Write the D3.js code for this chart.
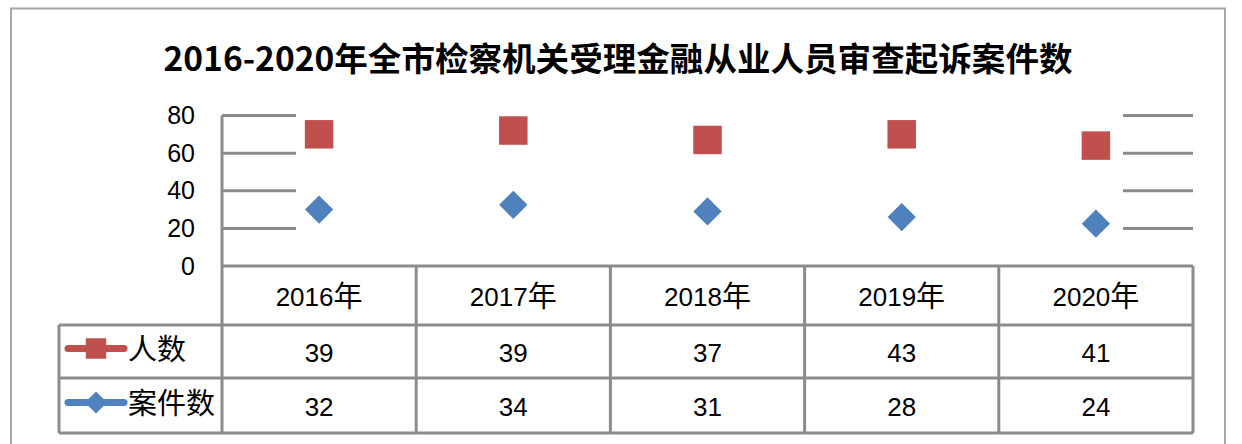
<!DOCTYPE html>
<html>
<head>
<meta charset="utf-8">
<script src="https://cdn.jsdelivr.net/npm/d3@7"></script>
<style>
  body { margin: 0; background: #fff; }
  text { font-family: "Liberation Sans", "Noto Sans CJK SC", sans-serif; }
</style>
</head>
<body>
<script>
// data
let years = ["2016", "2017", "2018", "2019", "2020"];
let year_suffix = "年";
let people_marks = [70, 72, 67, 70, 64];     // where the red squares sit on the axis
let cases_marks = [30, 32.5, 29, 26, 22.5];  // where the blue diamonds sit
let people_table = [39, 39, 37, 43, 41];     // numbers printed in the table
let cases_table = [32, 34, 31, 28, 24];
let y_ticks = [0, 20, 40, 60, 80];
let title = "2016-2020年全市检察机关受理金融从业人员审查起诉案件数";

let width = 1242, height = 444;
let plot = { left: 222, right: 1193, top: 115.5, bottom: 266 };
let table_left = 59;
let rows = [266, 325, 378, 433];
let grid_gray = "#8c8c8c";
let red = "#c0504d", blue = "#4f81bd";
let digit_font = "26px", cjk_font = "29px";

let svg = d3.select("body").append("svg")
    .attr("width", width)
    .attr("height", height);

// outer frame
svg.append("rect")
    .attr("x", 11).attr("y", 8.5)
    .attr("width", 1214).attr("height", 460)
    .attr("fill", "white")
    .attr("stroke", "#a6a6a6")
    .attr("stroke-width", 2);

svg.append("text")
    .attr("x", 618).attr("y", 57)
    .attr("text-anchor", "middle")
    .attr("dominant-baseline", "central")
    .style("font-family", "'Noto Sans CJK SC', sans-serif")
    .style("font-size", "33px")
    .style("font-weight", "bold")
    .attr("textLength", 909)
    .attr("lengthAdjust", "spacingAndGlyphs")
    .text(title);

let x = d3.scaleBand().domain(years).range([plot.left, plot.right]);
let y = d3.scaleLinear().domain([0, 80]).range([plot.bottom, plot.top]);
let cx = d => x(d) + x.bandwidth() / 2;

// gridlines only show at both ends of the plot
let grid_segments = [[plot.left, 296], [1123, plot.right]];
for (let seg of grid_segments) {
    svg.selectAll(null)
        .data(y_ticks.filter(t => t > 0))
        .enter().append("line")
        .attr("x1", seg[0]).attr("x2", seg[1])
        .attr("y1", d => y(d)).attr("y2", d => y(d))
        .attr("stroke", grid_gray)
        .attr("stroke-width", 3);
}

// y tick labels
let yAxis = svg.append("g")
    .attr("transform", "translate(" + (plot.left - 27) + ",0)")
    .call(d3.axisLeft(y).tickValues(y_ticks).tickSize(0).tickPadding(0));
yAxis.select(".domain").remove();
yAxis.selectAll("text")
    .style("font-family", "'Liberation Sans', sans-serif")
    .style("font-size", "25px")
    .attr("fill", "black");

// table lines
let table_right = plot.right;
svg.append("line")
    .attr("x1", plot.left).attr("x2", table_right)
    .attr("y1", rows[0]).attr("y2", rows[0])
    .attr("stroke", grid_gray).attr("stroke-width", 3);
for (let r of rows.slice(1)) {
    svg.append("line")
        .attr("x1", table_left).attr("x2", table_right)
        .attr("y1", r).attr("y2", r)
        .attr("stroke", grid_gray).attr("stroke-width", 3);
}
svg.append("line")
    .attr("x1", table_left).attr("x2", table_left)
    .attr("y1", rows[1]).attr("y2", rows[3])
    .attr("stroke", grid_gray).attr("stroke-width", 3);
svg.append("line")
    .attr("x1", plot.left).attr("x2", plot.left)
    .attr("y1", plot.top).attr("y2", rows[3])
    .attr("stroke", grid_gray).attr("stroke-width", 3);
svg.selectAll(null)
    .data(years)
    .enter().append("line")
    .attr("x1", d => x(d) + x.bandwidth()).attr("x2", d => x(d) + x.bandwidth())
    .attr("y1", rows[0]).attr("y2", rows[3])
    .attr("stroke", grid_gray).attr("stroke-width", 3);

// header: year digits + 年
let header = svg.selectAll(null)
    .data(years)
    .enter().append("text")
    .attr("x", cx)
    .attr("y", (rows[0] + rows[1]) / 2 + 1)
    .attr("text-anchor", "middle")
    .attr("dominant-baseline", "central");
header.append("tspan").style("font-size", digit_font).text(d => d);
header.append("tspan").style("font-size", cjk_font).text(year_suffix);

let table_rows = [
    { name: "人数", values: people_table, color: red, rotate: 0 },
    { name: "案件数", values: cases_table, color: blue, rotate: 45 }
];
table_rows.forEach((row, i) => {
    let cy = (rows[i + 1] + rows[i + 2]) / 2;
    svg.selectAll(null)
        .data(row.values)
        .enter().append("text")
        .attr("x", (d, j) => cx(years[j]))
        .attr("y", cy + 1)
        .attr("text-anchor", "middle")
        .attr("dominant-baseline", "central")
        .style("font-size", digit_font)
        .text(d => d);

    // legend key
    let ky = cy - 3;
    svg.append("line")
        .attr("x1", 68).attr("x2", 124)
        .attr("y1", ky).attr("y2", ky)
        .attr("stroke", row.color)
        .attr("stroke-width", 7)
        .attr("stroke-linecap", "round");
    svg.append("path")
        .attr("d", d3.symbol().type(d3.symbolSquare).size(row.rotate ? 240 : 420)())
        .attr("transform", "translate(96," + ky + ") rotate(" + row.rotate + ")")
        .attr("fill", row.color);
    svg.append("text")
        .attr("x", 128).attr("y", ky + 1)
        .attr("dominant-baseline", "central")
        .style("font-size", cjk_font)
        .text(row.name);
});

// markers
svg.selectAll(null)
    .data(people_marks)
    .enter().append("path")
    .attr("d", d3.symbol().type(d3.symbolSquare).size(28 * 29)())
    .attr("transform", (d, j) => "translate(" + cx(years[j]) + "," + y(d) + ")")
    .attr("fill", red);

svg.selectAll(null)
    .data(cases_marks)
    .enter().append("path")
    .attr("d", d3.symbol().type(d3.symbolSquare).size(20 * 20)())
    .attr("transform", (d, j) => "translate(" + cx(years[j]) + "," + y(d) + ") rotate(45)")
    .attr("fill", blue);
</script>
</body>
</html>
